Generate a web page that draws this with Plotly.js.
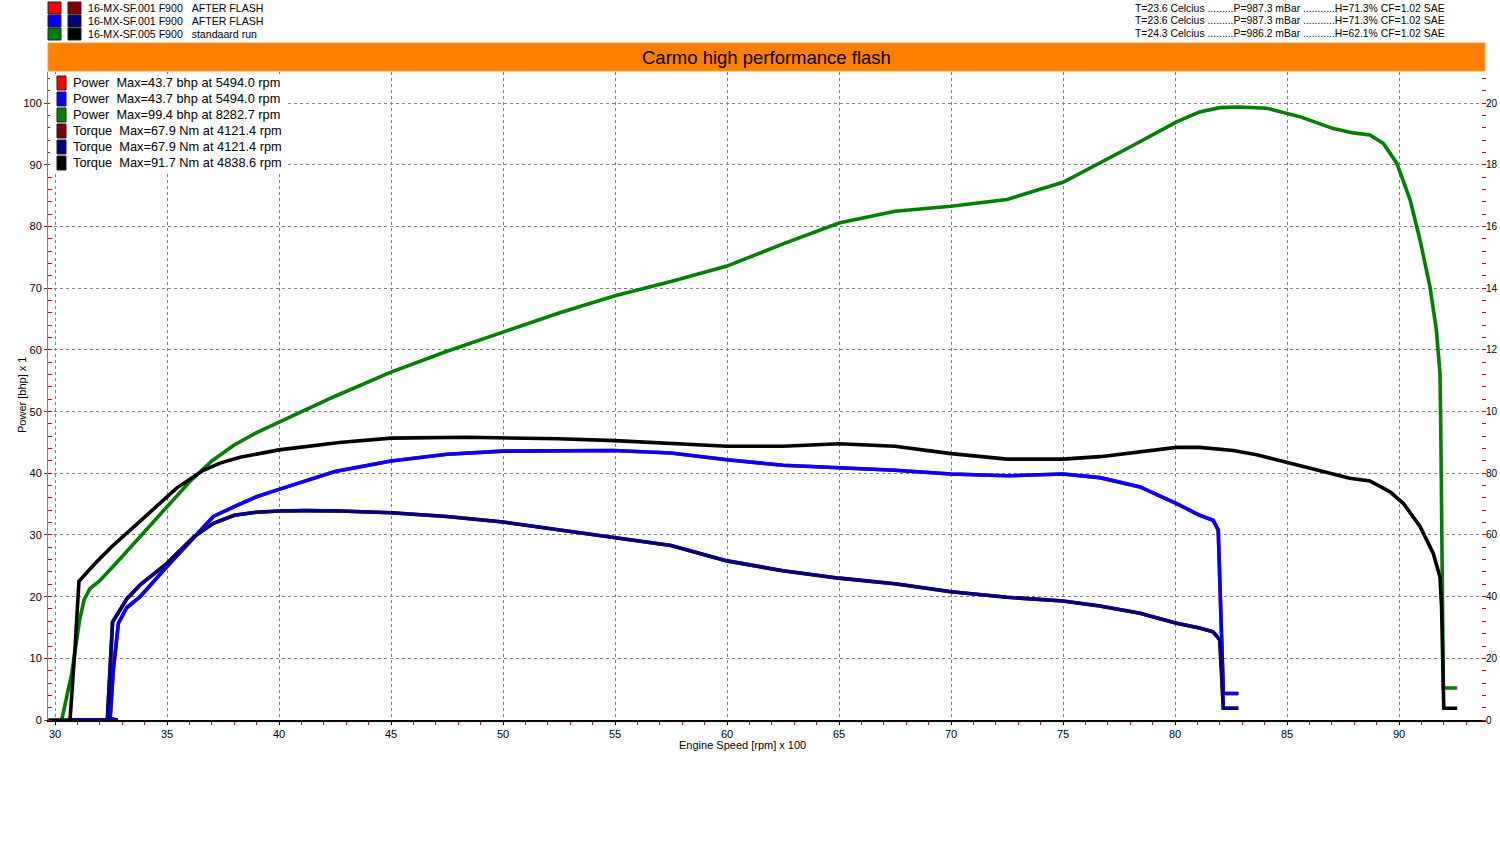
<!DOCTYPE html>
<html>
<head>
<meta charset="utf-8">
<script src="https://cdn.plot.ly/plotly-3.0.1.min.js"></script>
<style>html,body{margin:0;padding:0;background:#fff;}#chart{width:1500px;height:850px;}</style>
</head>
<body>
<div id="chart"></div>
<script>
// ---------- data (rpm x 100) ----------
// Run 16-MX-SF.001 F900 AFTER FLASH (loaded twice: red/darkred and blue/navy)
const afterPowerRpm = [30.6,32.46,32.6,32.83,33.2,33.8,35,36.2,37.07,38,39,40,42.5,45,47.5,50,52.5,54.94,57.5,60,62.5,65,67.5,70,72.5,75,76.65,78.44,80.07,81.1,81.7,81.93,82.0,82.08,82.16,82.83];
const afterPowerBhp = [0,0,8,15.7,18.2,20.0,24.9,29.7,33.0,34.6,36.2,37.4,40.3,42.0,43.1,43.6,43.7,43.7,43.3,42.2,41.3,40.9,40.5,39.9,39.6,39.9,39.3,37.8,35.1,33.2,32.4,30.8,24.3,13.5,4.3,4.3];
const afterTorqueRpm = [30.6,32.8,32.34,32.57,33.2,33.8,35,36.2,37.07,38,39,40,41.21,42.7,45,47.5,50,52.5,55,57.5,60,62.5,65,67.5,70,72.5,75,76.65,78.44,80.07,81.1,81.7,82.0,82.08,82.16,82.83];
const afterTorqueNm = [0,0,0.6,31.8,39.2,43.8,50.8,59.4,63.8,66.4,67.4,67.8,67.9,67.8,67.2,66.0,64.2,61.6,59.2,56.6,51.6,48.4,46.0,44.2,41.6,39.8,38.6,37.0,34.6,31.4,29.8,28.6,26.0,16.2,3.8,3.8];
// Run 16-MX-SF.005 F900 standaard run (green / black)
const stdPowerRpm = [30.3,30.75,31.1,31.3,31.56,32,33,34,35,36,37,38,39,40,42.5,45,47.5,50,52.5,55,57.5,60,62.5,65,67.5,70,72.5,75,76.65,78.14,80.07,81.1,82.0,82.83,84.1,85.6,87.07,87.96,88.7,89.3,89.9,90.5,90.94,91.38,91.67,91.83,91.86,91.9,91.95,91.98,92.6];
const stdPowerBhp = [0,7.6,16.2,19.5,21.3,22.6,26.5,30.5,34.6,38.6,42.0,44.6,46.6,48.3,52.5,56.4,59.8,62.9,66.0,68.8,71.1,73.6,77.2,80.6,82.5,83.3,84.4,87.2,90.3,93.2,97.0,98.6,99.3,99.4,99.2,97.8,95.9,95.2,94.86,93.5,90.3,84.3,77.8,70.3,63.2,56.2,49.2,35.0,20.0,5.2,5.2];
const stdTorqueRpm = [29.7,30.67,30.9,31.07,31.8,32.53,33.94,35.43,36.62,37.4,38.26,40,42.7,45,48.39,50,52.5,55,57.5,60,62.5,65,67.5,70,72.5,75,76.65,78.44,80.07,81.1,82.6,83.65,85.05,86.3,87.8,88.7,89.6,90.2,90.94,91.53,91.83,91.9,91.98,92.0,92.6];
const stdTorqueNm = [0,0,24,45,50.8,56.2,65.4,75.2,81,83.4,85.2,87.6,90,91.4,91.7,91.6,91.2,90.6,89.6,88.8,88.8,89.6,88.8,86.4,84.6,84.6,85.4,87,88.4,88.4,87.4,86,83.4,81,78.4,77.5,74,70.2,62.8,54,46.4,36.8,16.2,3.8,3.8];

const chartTitle = "Carmo high performance flash";
const xTitle = "Engine Speed [rpm] x 100";
const yTitle = "Power [bhp] x 1";
const runNames = ["16-MX-SF.001 F900\u00a0\u00a0\u00a0AFTER FLASH","16-MX-SF.001 F900\u00a0\u00a0\u00a0AFTER FLASH","16-MX-SF.005 F900\u00a0\u00a0\u00a0standaard run"];
const runConditions = [
  "T=23.6 Celcius .........P=987.3 mBar ...........H=71.3% CF=1.02 SAE",
  "T=23.6 Celcius .........P=987.3 mBar ...........H=71.3% CF=1.02 SAE",
  "T=24.3 Celcius .........P=986.2 mBar ...........H=62.1% CF=1.02 SAE"];
const maxLabels = [
  "Power\u00a0\u00a0Max=43.7 bhp at 5494.0 rpm",
  "Power\u00a0\u00a0Max=43.7 bhp at 5494.0 rpm",
  "Power\u00a0\u00a0Max=99.4 bhp at 8282.7 rpm",
  "Torque\u00a0\u00a0Max=67.9 Nm at 4121.4 rpm",
  "Torque\u00a0\u00a0Max=67.9 Nm at 4121.4 rpm",
  "Torque\u00a0\u00a0Max=91.7 Nm at 4838.6 rpm"];
// right-axis tick labels as printed (clipped at the window edge in the original)
const torqueTickVals = [0,20,40,60,80,100,120,140,160,180,200];
const torqueTickText = ["0","20","40","60","80","10","12","14","16","18","20"];
const powerColors = ["#ff0000","#0000ff","#008000"];
const torqueColors = ["#800000","#000080","#000000"];

// ---------- layout helpers ----------
const W=1500,H=850,L=48,R=1486,T=72,B=720;
const fx = p => (p-L)/(R-L);
const fy = p => (B-p)/(B-T);
const FONT = "Liberation Sans, Arial, sans-serif";

const lw = 3.6;
const traces = [
  {x:afterPowerRpm, y:afterPowerBhp, color:powerColors[0], axis:'y'},
  {x:afterPowerRpm, y:afterPowerBhp, color:powerColors[1], axis:'y'},
  {x:stdPowerRpm, y:stdPowerBhp, color:powerColors[2], axis:'y'},
  {x:afterTorqueRpm, y:afterTorqueNm, color:torqueColors[0], axis:'y2'},
  {x:afterTorqueRpm, y:afterTorqueNm, color:torqueColors[1], axis:'y2'},
  {x:stdTorqueRpm, y:stdTorqueNm, color:torqueColors[2], axis:'y2'}
].map(t=>({type:'scatter',mode:'lines',x:t.x,y:t.y,yaxis:t.axis,line:{color:t.color,width:lw},hoverinfo:'x+y',showlegend:false}));

const shapes = [];
const annotations = [];
// orange title bar
shapes.push({type:'rect',xref:'paper',yref:'paper',x0:fx(48),x1:fx(1485),y0:fy(43),y1:fy(71),fillcolor:'#ff8000',line:{color:'#f0a040',width:1},layer:'above'});
annotations.push({xref:'paper',yref:'paper',x:fx(766),y:fy(57),text:chartTitle,showarrow:false,xanchor:'center',yanchor:'middle',font:{family:FONT,size:18.5,color:'#000'}});
// axis titles
annotations.push({xref:'paper',yref:'paper',x:fx(742),y:fy(745),text:xTitle,showarrow:false,xanchor:'center',yanchor:'middle',font:{family:FONT,size:11,color:'#000'},borderpad:0});
annotations.push({xref:'paper',yref:'paper',x:fx(22),y:fy(395),text:yTitle,showarrow:false,textangle:-90,xanchor:'center',yanchor:'middle',font:{family:FONT,size:11,color:'#000'},borderpad:0});
// top-left run legend
const rowY=[8,21,34];
for(let i=0;i<3;i++){
  shapes.push({type:'rect',xref:'paper',yref:'paper',x0:fx(48),x1:fx(61),y0:fy(rowY[i]-6),y1:fy(rowY[i]+6),fillcolor:powerColors[i],line:{color:'#202020',width:1},layer:'above'});
  shapes.push({type:'rect',xref:'paper',yref:'paper',x0:fx(68),x1:fx(81),y0:fy(rowY[i]-6),y1:fy(rowY[i]+6),fillcolor:torqueColors[i],line:{color:'#202020',width:1},layer:'above'});
  annotations.push({xref:'paper',yref:'paper',x:fx(87),y:fy(rowY[i]),text:runNames[i],showarrow:false,xanchor:'left',yanchor:'middle',font:{family:FONT,size:10.6,color:'#000'},borderpad:0});
  annotations.push({xref:'paper',yref:'paper',x:fx(1446),y:fy(rowY[i]),text:runConditions[i],showarrow:false,xanchor:'right',yanchor:'middle',font:{family:FONT,size:10.4,color:'#000'},borderpad:0});
}
// inner max legend (white panel hides the grid)
shapes.push({type:'rect',xref:'paper',yref:'paper',x0:fx(50),x1:fx(288),y0:fy(74),y1:fy(172),fillcolor:'#ffffff',line:{width:0},layer:'above'});
const legColors=[powerColors[0],powerColors[1],powerColors[2],torqueColors[0],torqueColors[1],torqueColors[2]];
for(let i=0;i<6;i++){
  const cy=83+16*i;
  shapes.push({type:'rect',xref:'paper',yref:'paper',x0:fx(57),x1:fx(66),y0:fy(cy-7),y1:fy(cy+7),fillcolor:legColors[i],line:{color:'#202020',width:1},layer:'above'});
  annotations.push({xref:'paper',yref:'paper',x:fx(72),y:fy(cy),text:maxLabels[i],showarrow:false,xanchor:'left',yanchor:'middle',font:{family:FONT,size:12.8,color:'#000'},borderpad:0});
}

const yTop = (B-T)/((B-103.3)/100);
const grid = {showgrid:true,gridcolor:'#808080',gridwidth:1,griddash:'3px,3px',zeroline:false};
const layout = {
  width:W,height:H,
  margin:{l:L,r:W-R,t:T,b:H-B,pad:0},
  paper_bgcolor:'#fff',plot_bgcolor:'#fff',
  showlegend:false,
  font:{family:FONT,size:11,color:'#000'},
  xaxis:Object.assign({},grid,{
    range:[30+(L-55)/22.4,30+(R-55)/22.4],
    tick0:30,dtick:5,ticks:'outside',ticklen:3,tickcolor:'#000',
    showline:true,linecolor:'#000',linewidth:1.5,
    tickfont:{family:FONT,size:11,color:'#000'},
    minor:{dtick:1,tick0:30,ticks:'outside',ticklen:3,tickcolor:'#cc0000',showgrid:false}
  }),
  yaxis:Object.assign({},grid,{
    range:[0,yTop],tick0:0,dtick:10,ticks:'outside',ticklen:3,tickcolor:'#404040',
    showline:true,linecolor:'#808080',linewidth:1,
    tickfont:{family:FONT,size:11,color:'#000'},
    minor:{dtick:2,tick0:0,ticks:'inside',ticklen:4,tickcolor:'#cc0000',showgrid:false}
  }),
  yaxis2:{
    overlaying:'y',side:'right',range:[0,2*yTop],
    tickmode:'array',tickvals:torqueTickVals,ticktext:torqueTickText,
    showgrid:false,zeroline:false,showline:false,
    ticks:'',ticklabelstandoff:-1,
    tickfont:{family:FONT,size:10,color:'#000'},
    minor:{dtick:4,tick0:0,ticks:'inside',ticklen:4,tickcolor:'#cc0000',showgrid:false}
  },
  shapes:shapes,
  annotations:annotations
};
Plotly.newPlot('chart',traces,layout,{staticPlot:true,displayModeBar:false});
</script>
</body>
</html>
